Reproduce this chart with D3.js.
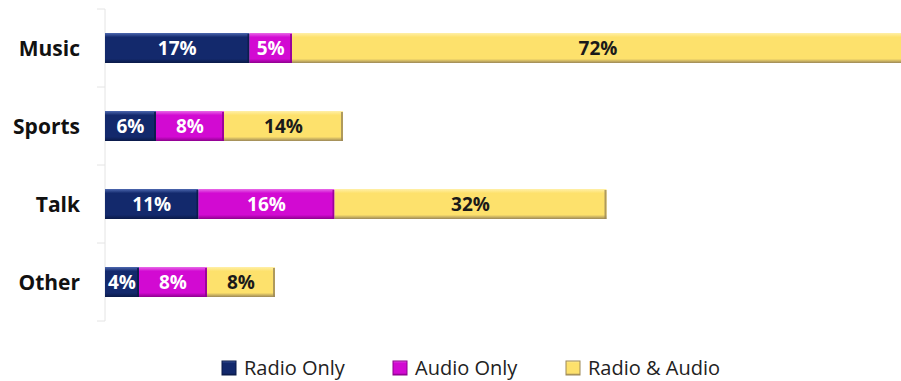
<!DOCTYPE html>
<html>
<head>
<meta charset="utf-8">
<script src="https://cdn.jsdelivr.net/npm/d3@7"></script>
<style>
    html, body { margin: 0; padding: 0; background: #ffffff; }
    svg { display: block; overflow: hidden; }
</style>
</head>
<body>
<div class="charts-div"></div>
<script>
// chart data
const categories = ["Music", "Sports", "Talk", "Other"];
const seriesNames = ["Radio Only", "Audio Only", "Radio & Audio"];
const radioOnly = [17, 6, 11, 4];
const audioOnly = [5, 8, 16, 8];
const radioAndAudio = [72, 14, 32, 8];

const width = 901;
const height = 381;
const margins = { top: 9, right: 0, bottom: 60, left: 105 };
const fontFamily = "'Open Sans', Lato, sans-serif";

// series styling: fill, top highlight, edge shade, label colour
const seriesStyles = [
    { fill: "#13296c", light: "#4d68b0", dark: "#0a1a48", label: "#ffffff" },
    { fill: "#d20ad2", light: "#e86ae8", dark: "#8e008e", label: "#ffffff" },
    { fill: "#fde16c", light: "#fff0a8", dark: "#9c8858", label: "#1a1a1a" }
];

const rows = categories.map((c, i) => ({
    category: c,
    values: [radioOnly[i], audioOnly[i], radioAndAudio[i]]
}));

const svg = d3.select(".charts-div").append("svg")
    .attr("width", width)
    .attr("height", height);

const defs = svg.append("defs");
seriesStyles.forEach((s, i) => {
    const g = defs.append("linearGradient")
        .attr("id", "grad" + i)
        .attr("x1", 0).attr("y1", 0).attr("x2", 0).attr("y2", 1);
    g.append("stop").attr("offset", "0%").attr("stop-color", s.light);
    g.append("stop").attr("offset", "14%").attr("stop-color", s.fill);
    g.append("stop").attr("offset", "86%").attr("stop-color", s.fill);
    g.append("stop").attr("offset", "100%").attr("stop-color", s.dark);
});

const x = d3.scaleLinear().domain([0, 100]).range([margins.left, margins.left + 850]);
const y = d3.scaleBand().domain(categories).range([margins.top, height - margins.bottom]).padding(0);
const barHeight = 30;

// category axis line and ticks
const axisG = svg.append("g");
axisG.append("line")
    .attr("x1", margins.left).attr("x2", margins.left)
    .attr("y1", y.range()[0]).attr("y2", y.range()[1])
    .attr("stroke", "#e4e4e4").attr("stroke-width", 1);

const tickYs = [y.range()[0]].concat(categories.map(c => y(c) + y.bandwidth()));
axisG.selectAll(".tick")
    .data(tickYs)
    .join("line")
    .attr("x1", margins.left - 8).attr("x2", margins.left)
    .attr("y1", d => d).attr("y2", d => d)
    .attr("stroke", "#e4e4e4").attr("stroke-width", 1);

axisG.selectAll(".cat-label")
    .data(categories)
    .join("text")
    .attr("x", 80)
    .attr("y", d => y(d) + y.bandwidth() / 2)
    .attr("dy", "0.36em")
    .attr("text-anchor", "end")
    .attr("font-family", fontFamily)
    .attr("font-weight", "bold")
    .attr("font-size", 21)
    .attr("fill", "#111111")
    .text(d => d);

// stacked bars
const stack = d3.stack().keys([0, 1, 2]).value((d, k) => d.values[k]);
const stacked = stack(rows);

stacked.forEach((layer, k) => {
    const st = seriesStyles[k];
    const g = svg.append("g").attr("class", "series-" + k);
    const bars = g.selectAll("g")
        .data(layer)
        .join("g");

    bars.append("rect")
        .attr("x", d => x(d[0]))
        .attr("y", d => y(d.data.category) + (y.bandwidth() - barHeight) / 2)
        .attr("width", d => x(d[1]) - x(d[0]))
        .attr("height", barHeight)
        .attr("fill", "url(#grad" + k + ")");

    // shaded right edge
    bars.append("rect")
        .attr("x", d => x(d[1]) - 2)
        .attr("y", d => y(d.data.category) + (y.bandwidth() - barHeight) / 2 + 1)
        .attr("width", 2)
        .attr("height", barHeight - 1)
        .attr("fill", st.dark)
        .attr("opacity", 0.8);

    bars.append("text")
        .attr("x", d => (x(d[0]) + x(d[1])) / 2)
        .attr("y", d => y(d.data.category) + y.bandwidth() / 2)
        .attr("dy", "0.36em")
        .attr("text-anchor", "middle")
        .attr("font-family", fontFamily)
        .attr("font-weight", "bold")
        .attr("font-size", 19)
        .attr("fill", st.label)
        .text(d => (d[1] - d[0]) + "%");
});

// legend
const legendX = [222, 393, 566];
const legend = svg.append("g").attr("class", "legend");
const items = legend.selectAll("g")
    .data(seriesNames)
    .join("g")
    .attr("transform", (d, i) => `translate(${legendX[i]}, 361)`);

items.append("rect")
    .attr("width", 14).attr("height", 14)
    .attr("fill", (d, i) => "url(#grad" + i + ")")
    .attr("stroke", (d, i) => seriesStyles[i].dark)
    .attr("stroke-width", 1);

items.append("text")
    .attr("x", 22)
    .attr("y", 7)
    .attr("dy", "0.35em")
    .attr("font-family", fontFamily)
    .attr("font-size", 20)
    .attr("fill", "#222222")
    .text(d => d);
</script>
</body>
</html>
